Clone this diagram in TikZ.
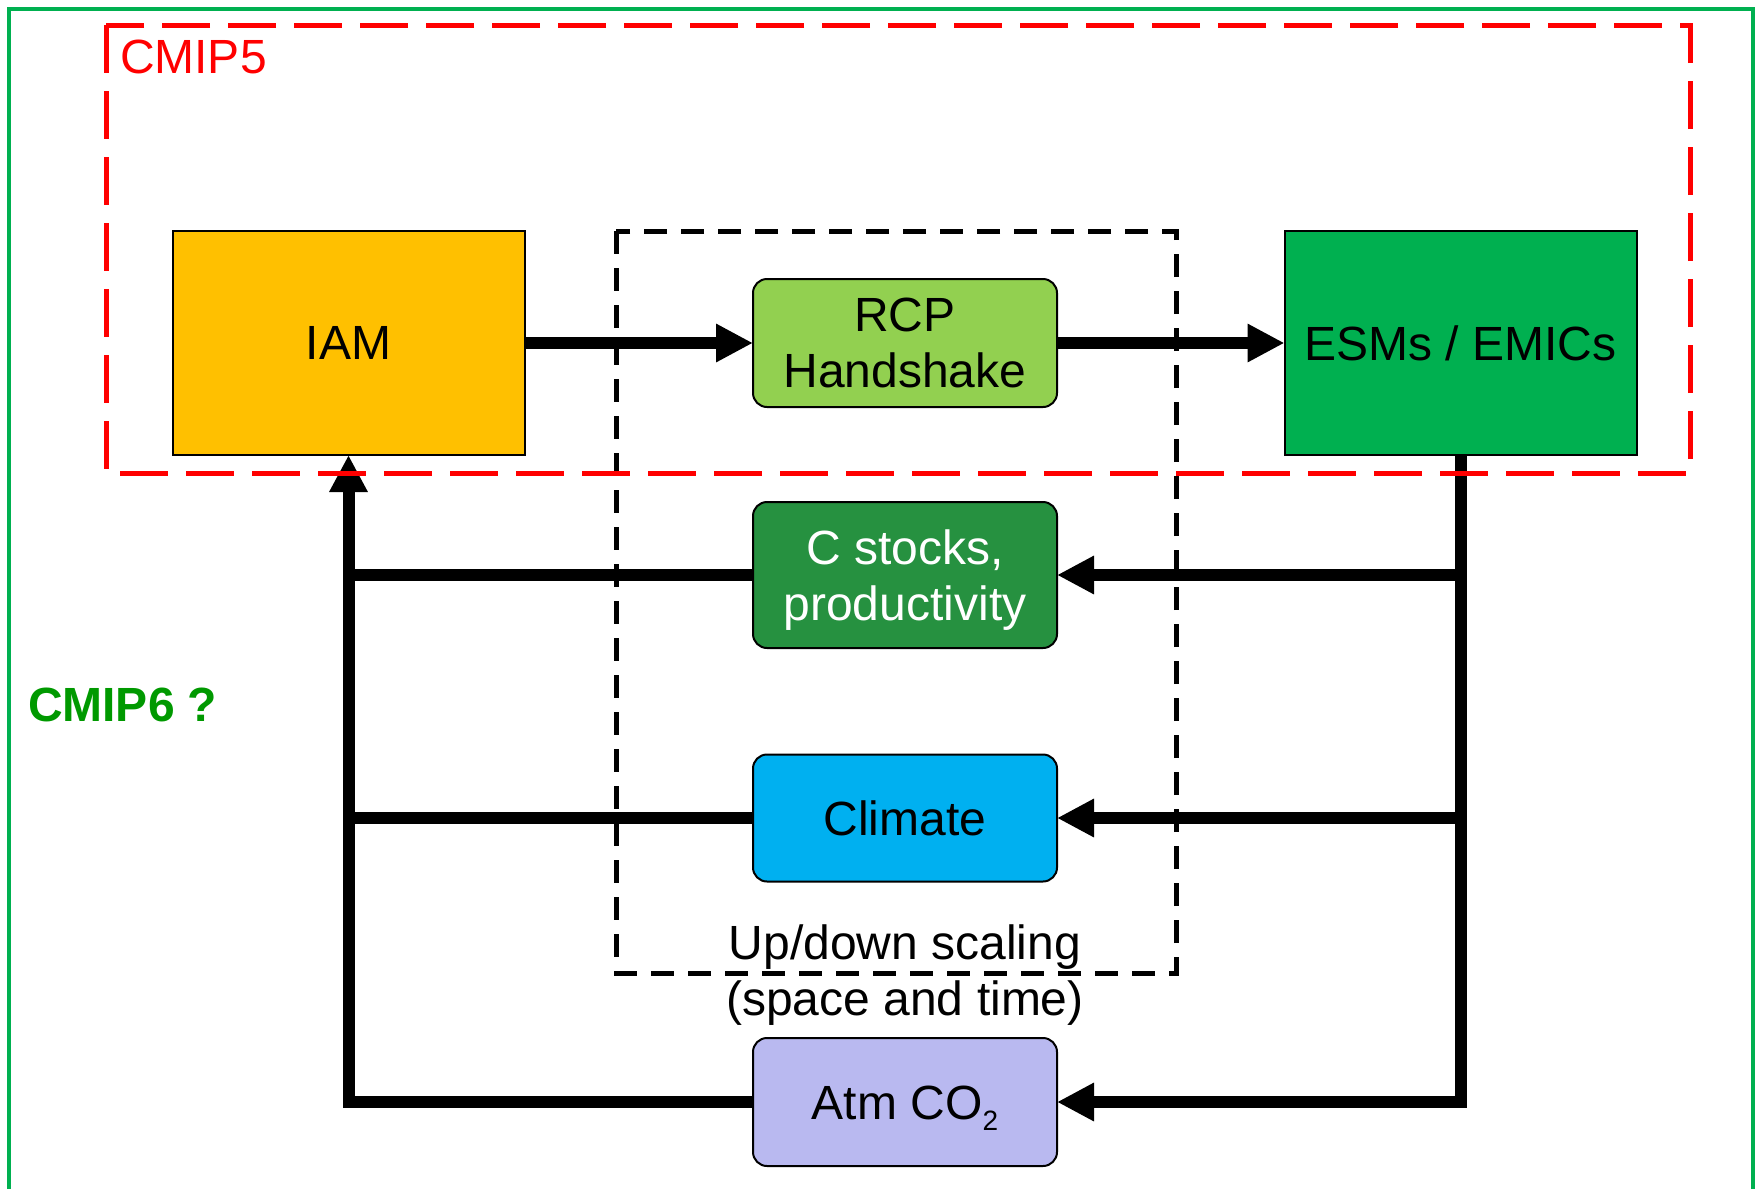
\documentclass[tikz,border=0pt]{standalone}
\usepackage{fontspec}
\setmainfont{Liberation Sans}
\usetikzlibrary{arrows.meta}
\definecolor{iamc}{RGB}{255,192,0}
\definecolor{esmc}{RGB}{0,176,80}
\definecolor{rcpc}{RGB}{146,208,80}
\definecolor{cstc}{RGB}{38,145,64}
\definecolor{climc}{RGB}{0,176,240}
\definecolor{atmc}{RGB}{185,185,240}
\definecolor{framec}{RGB}{0,176,80}
\definecolor{cmipsix}{RGB}{0,153,0}
\begin{document}
\begin{tikzpicture}[x=0.5pt,y=-0.5pt,
  every node/.style={font=\fontsize{24}{28}\selectfont, inner sep=0pt, outer sep=0pt},
  bigbox/.style={draw=black, line width=1pt, minimum width=176pt, minimum height=112pt},
  smallbox/.style={draw=black, line width=1pt, rounded corners=7pt, minimum width=152pt, minimum height=64pt, align=center},
  conn/.style={line width=6pt},
  arrowtip/.style={-{Triangle[length=18.5pt,width=18pt]}},
]
\useasboundingbox (0,0) rectangle (1757,1189);
% outer green frame
\draw[framec, line width=2.25pt] (9,1200) -- (9,9) -- (1753,9) -- (1753,1200);
% black dashed scaling box
\draw[black, line width=2.5pt, dash pattern=on 11.5pt off 7pt] (616,231) rectangle (1176,973);
% nodes
\node[bigbox, fill=iamc] (iam) at (348.5,343) {IAM};
\node[bigbox, fill=esmc] (esm) at (1460.5,343) {ESMs / EMICs};
\node[smallbox, fill=rcpc] (rcp) at (905,343) {RCP\\Handshake};
\node[smallbox, fill=cstc, text=white, minimum height=73pt, text depth=0pt] (cst) at (905,575) {C stocks,\\productivity};
\node[smallbox, fill=climc, minimum height=63.5pt] (clim) at (905,818) {Climate};
\node[smallbox, fill=atmc, text height=17.5pt, text depth=0pt] (atm) at (905,1102) {Atm CO\raisebox{-5.5pt}{\fontsize{14}{14}\selectfont 2}};
% labels
\node[anchor=base west, text=red] (cmipfive) at (120,73) {CMIP5};
\node[anchor=base west, text=cmipsix, font=\fontsize{24}{28}\selectfont\bfseries] (cmipsixlbl) at (28,721) {CMIP6 ?};
\node[align=center] (scal) at (905,975) {Up/down scaling\\(space and time)};
% connectors
\draw[conn, arrowtip] (iam.east) -- (rcp.west);
\draw[conn, arrowtip] (rcp.east) -- (esm.west);
\draw[conn, arrowtip] (esm.south) |- (atm.east);
\draw[conn, arrowtip] (esm.south |- cst.east) -- (cst.east);
\draw[conn, arrowtip] (esm.south |- clim.east) -- (clim.east);
\draw[conn, arrowtip] (atm.west) -| (iam.south);
\draw[conn] (cst.west) -- (cst.west -| iam.south);
\draw[conn] (clim.west) -- (clim.west -| iam.south);
% red dashed CMIP5 box
\draw[red, line width=2.5pt, dash pattern=on 24pt off 9pt] (106,25) rectangle (1690,473);
\end{tikzpicture}
\end{document}
